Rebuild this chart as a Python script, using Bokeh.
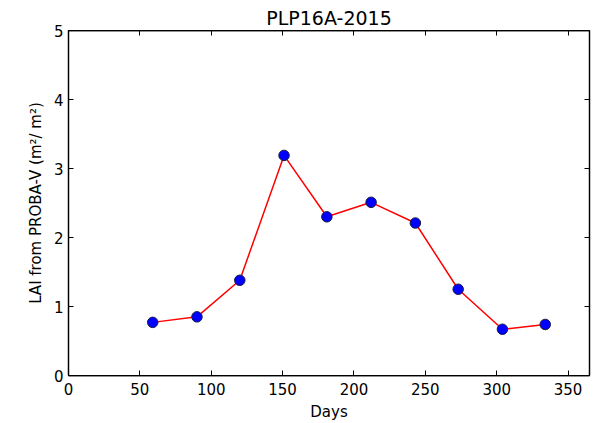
from bokeh.plotting import figure
from bokeh.models import LinearAxis, SingleIntervalTicker, Range1d, CustomJSTickFormatter
from bokeh.embed import file_html
from bokeh.resources import INLINE

# Data
days = [59, 90, 120, 151, 181, 212, 243, 273, 304, 334]
lai = [0.77, 0.85, 1.38, 3.19, 2.30, 2.51, 2.21, 1.25, 0.67, 0.74]

title_text = "PLP16A-2015"
x_label = "Days"
y_label = "LAI from PROBA-V (m\u00b2/ m\u00b2)"
x_limits = (0, 365)
y_limits = (0, 5)
x_tick_step = 50
y_tick_step = 1

FONT = "DejaVu Sans"

p = figure(width=603, height=423,
           x_range=Range1d(*x_limits), y_range=Range1d(*y_limits),
           output_backend="svg", toolbar_location=None,
           title=title_text,
           min_border_left=68, min_border_right=14,
           min_border_top=30, min_border_bottom=47)

p.title.text_font = FONT
p.title.text_font_size = "19px"
p.title.text_font_style = "normal"
p.title.text_color = "black"
p.title.align = "center"
p.title.standoff = 4
p.title.offset = 0

p.background_fill_color = "white"
p.border_fill_color = "white"
p.outline_line_color = "black"
p.outline_line_width = 1.25
p.grid.visible = False


def style_axis(ax, show_labels=True):
    ax.major_tick_in = 5
    ax.major_tick_out = 0
    ax.minor_tick_line_color = None
    ax.major_tick_line_color = "black"
    ax.major_tick_line_width = 1
    ax.axis_line_color = "black"
    ax.axis_line_width = 1.25
    if show_labels:
        ax.major_label_text_font = FONT
        ax.major_label_text_font_size = "15px"
        ax.major_label_text_color = "black"
        ax.axis_label_text_font = FONT
        ax.axis_label_text_font_size = "15px"
        ax.axis_label_text_font_style = "normal"
        ax.axis_label_text_color = "black"
    else:
        ax.formatter = CustomJSTickFormatter(code="return '';")
        ax.major_label_text_font_size = "1px"
        ax.major_label_standoff = 0
        ax.axis_label = None


xax = p.xaxis[0]
xax.ticker = SingleIntervalTicker(interval=x_tick_step, num_minor_ticks=0)
xax.axis_label = x_label
style_axis(xax)
xax.major_label_standoff = 7
xax.axis_label_standoff = 5

yax = p.yaxis[0]
yax.ticker = SingleIntervalTicker(interval=y_tick_step, num_minor_ticks=0)
yax.axis_label = y_label
style_axis(yax)
yax.major_label_standoff = 5
yax.axis_label_standoff = 6

top = LinearAxis(ticker=SingleIntervalTicker(interval=x_tick_step, num_minor_ticks=0))
style_axis(top, show_labels=False)
p.add_layout(top, "above")

right = LinearAxis(ticker=SingleIntervalTicker(interval=y_tick_step, num_minor_ticks=0))
style_axis(right, show_labels=False)
p.add_layout(right, "right")

p.line(days, lai, line_color="#ff0000", line_width=1.5)
p.scatter(days, lai, size=10.5, fill_color="#0000ff", line_color="#1a1a40", line_width=1)

open("out.html", "w").write(file_html(p, INLINE))
